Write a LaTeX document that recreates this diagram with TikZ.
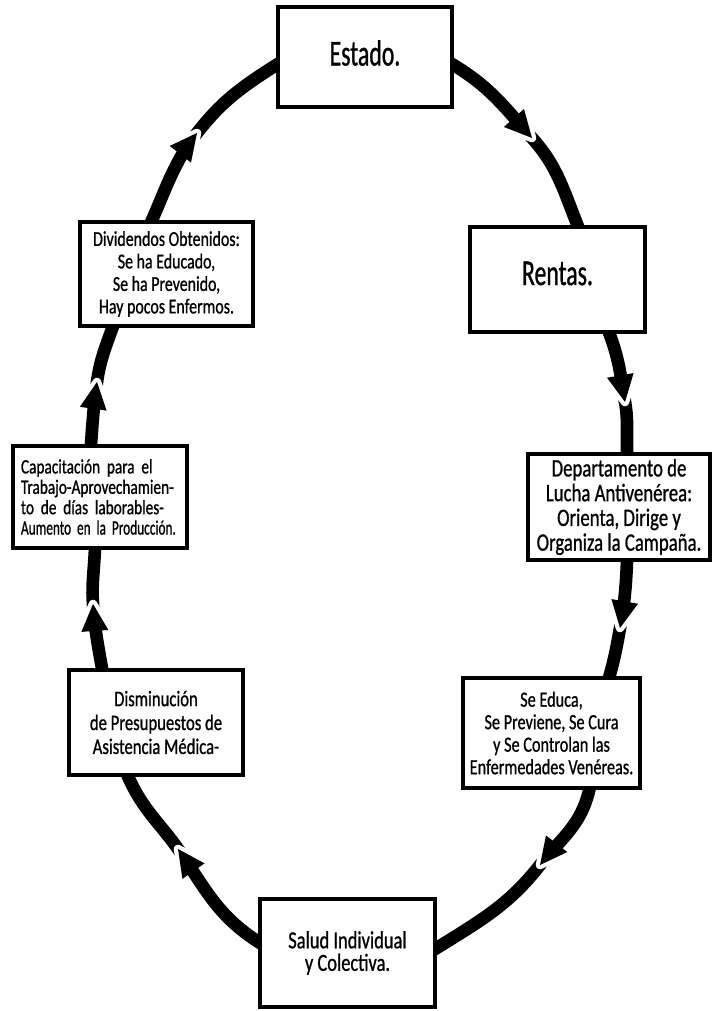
\documentclass[tikz,border=0pt]{standalone}
\usepackage{graphicx}
\usepackage{fontspec}
\setmainfont{Carlito}[FakeStretch=0.75, FakeBold=0.8]
\newfontfamily\bigfont{Carlito}[FakeStretch=0.65, FakeBold=0.8]
\usetikzlibrary{calc,backgrounds}
\tikzset{
  box/.style={draw=black, line width=2.4pt, fill=white, inner sep=0pt, align=center},
  conn/.style={draw=black, line width=9pt, shorten <=-5pt, shorten >=-5pt},
}
\newcommand\arrowhd[2]{%
  \begin{scope}[shift={(#1)}, rotate=#2]
    \draw[white, line width=6pt, line join=round, line cap=round] (-27,14) -- (0,0) -- (-27,-14);
    \fill[black] (-27,13.5) -- (0,0) -- (-27,-13.5) -- cycle;
  \end{scope}}
\newcommand\jline[1]{\makebox[\linewidth][s]{#1}}
\begin{document}
\begin{tikzpicture}[x=0.025cm, y=0.025cm]
\useasboundingbox (0,0) rectangle (715,1011);
% boxes
\node[box, minimum width=4.35cm, minimum height=2.5cm] (estado) at (365,954) {};
\node[font=\bigfont\fontsize{26}{26}\selectfont, inner sep=0pt] (estadot) at ($(estado.center)+(0,4)$) {Estado.};
\node[box, minimum width=4.375cm, minimum height=2.625cm] (rentas) at (557.5,731.5) {};
\node[font=\bigfont\fontsize{26}{26}\selectfont, inner sep=0pt] (rentast) at ($(rentas.center)+(0,6)$) {Rentas.};
\node[box, minimum width=4.55cm, minimum height=2.65cm, font=\fontsize{17.8}{17.6}\selectfont] (depto) at (619,504)
  {Departamento de\\Lucha Antivenérea:\\Orienta, Dirige y\\Organiza la Campaña.};
\node[box, minimum width=4.425cm, minimum height=2.75cm, font=\fontsize{15.4}{16}\selectfont] (seeduca) at (551.5,278)
  {Se Educa,\\Se Previene, Se Cura\\y Se Controlan las\\Enfermedades Venéreas.};
\node[box, minimum width=4.375cm, minimum height=2.7cm, font=\fontsize{17.5}{16}\selectfont] (salud) at (347.5,58)
  {Salud Individual\\y Colectiva.};
\node[box, minimum width=4.35cm, minimum height=2.625cm, font=\fontsize{15.8}{17}\selectfont] (dismin) at (156,288.5)
  {Disminución\\de Presupuestos de\\Asistencia Médica-};
\node[box, minimum width=4.35cm, minimum height=2.55cm, text width=3.95cm, align=left, font=\fontsize{14.5}{14.5}\selectfont] (capac) at (100,514)
  {\jline{Capacitación para el}\\Trabajo-Aprovechamien-\\\jline{to de días laborables-}\\\scalebox{0.87}[1]{Aumento en la Producción.}};
\node[box, minimum width=4.325cm, minimum height=2.6cm, font=\fontsize{15.1}{16}\selectfont] (divid) at (166.5,737)
  {Dividendos Obtenidos:\\Se ha Educado,\\Se ha Prevenido,\\Hay pocos Enfermos.};
% arrow tip points
\coordinate (a1) at (532,873);
\coordinate (a2) at (625,609);
\coordinate (a3) at (620,383);
\coordinate (a4) at (540,146);
\coordinate (a5) at (178,162);
\coordinate (a6) at (93,407);
\coordinate (a7) at (97,629);
\coordinate (a8) at (197,878);
\begin{scope}[on background layer]
\draw[conn] ($(estado.east)+(0,-8)$) to[out=-30,in=132] (a1) to[out=-48,in=112] ($(rentas.north)+(20,0)$);
\draw[conn] ($(rentas.south)+(52,0)$) to[out=-68,in=100] (a2) to[out=-80,in=92] ($(depto.north)+(8,0)$);
\draw[conn] ($(depto.south)+(8,0)$) to[out=-92,in=80] (a3) to[out=-100,in=74] ($(seeduca.north)+(58,0)$);
\draw[conn] ($(seeduca.south)+(38,0)$) to[out=-100,in=52] (a4) to[out=-128,in=32] ($(salud.east)+(0,5)$);
\draw[conn] ($(salud.west)+(0,11)$) to[out=149,in=-55] (a5) to[out=125,in=-68] ($(dismin.south)+(-28,0)$);
\draw[conn] ($(dismin.north)+(-54,0)$) to[out=100,in=-86] (a6) to[out=94,in=-92] ($(capac.south)+(-5,0)$);
\draw[conn] ($(capac.north)+(-9,0)$) to[out=86,in=-98] (a7) to[out=82,in=-110] ($(divid.south)+(-54,0)$);
\draw[conn] ($(divid.north)+(-14.5,0)$) to[out=66,in=-128] (a8) to[out=52,in=-148] ($(estado.west)+(0,-8)$);
\arrowhd{a1}{-48}
\arrowhd{a2}{-80}
\arrowhd{a3}{-100}
\arrowhd{a4}{-128}
\arrowhd{a5}{125}
\arrowhd{a6}{94}
\arrowhd{a7}{82}
\arrowhd{a8}{52}
\end{scope}
\end{tikzpicture}
\end{document}
